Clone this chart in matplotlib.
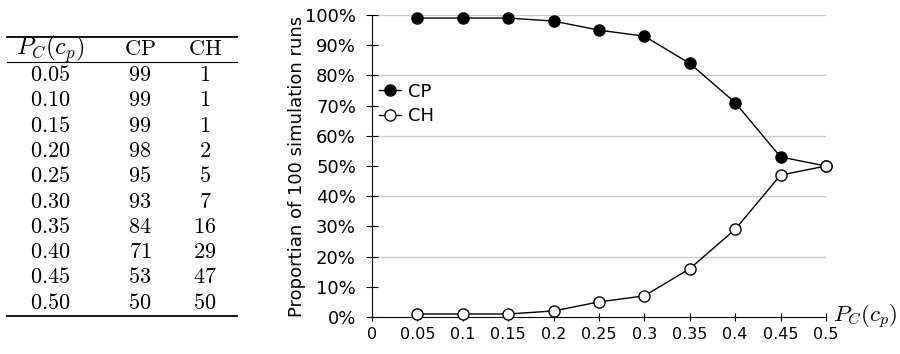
import matplotlib
matplotlib.use("Agg")
import matplotlib.pyplot as plt
from matplotlib.ticker import PercentFormatter

plt.rcParams['mathtext.fontset'] = 'cm'

# data
pc = [0.05, 0.10, 0.15, 0.20, 0.25, 0.30, 0.35, 0.40, 0.45, 0.50]
pc_txt = ["0.05", "0.10", "0.15", "0.20", "0.25", "0.30", "0.35", "0.40", "0.45", "0.50"]
cp = [99, 99, 99, 98, 95, 93, 84, 71, 53, 50]
ch = [1, 1, 1, 2, 5, 7, 16, 29, 47, 50]
xticks = [0, 0.05, 0.1, 0.15, 0.2, 0.25, 0.3, 0.35, 0.4, 0.45, 0.5]
xtick_labels = ["0", "0.05", "0.1", "0.15", "0.2", "0.25", "0.3", "0.35", "0.4", "0.45", "0.5"]

fig = plt.figure(figsize=(9, 3.54), dpi=100)

# table on the left, drawn in pixel coordinates
tab = fig.add_axes([0, 0, 1, 1])
tab.set_xlim(0, 900)
tab.set_ylim(354, 0)
tab.axis("off")
col_x = [50, 140, 205]
tsize = 16
tab.plot([7, 237], [37, 37], color="black", lw=1.3)
tab.plot([7, 237], [62, 62], color="black", lw=0.8)
tab.plot([7, 237], [316, 316], color="black", lw=1.3)
tab.text(col_x[0], 49, r"$P_C(c_p)$", ha="center", va="center", fontsize=17.5)
tab.text(col_x[1], 49, r"$\mathrm{CP}$", ha="center", va="center", fontsize=tsize)
tab.text(col_x[2], 49, r"$\mathrm{CH}$", ha="center", va="center", fontsize=tsize)
for i in range(len(pc)):
    y = 75 + i * 25.3
    tab.text(col_x[0], y, "$" + pc_txt[i] + "$", ha="center", va="center", fontsize=tsize)
    tab.text(col_x[1], y, "$%d$" % cp[i], ha="center", va="center", fontsize=tsize)
    tab.text(col_x[2], y, "$%d$" % ch[i], ha="center", va="center", fontsize=tsize)

# chart
ax = fig.add_axes([0.4133, 0.1045, 0.5044, 0.853])
ax.plot(pc, cp, color="black", lw=1, marker="o", markersize=8,
        markerfacecolor="black", markeredgecolor="black", label="CP", zorder=3, clip_on=False)
ax.plot(pc, ch, color="black", lw=1, marker="o", markersize=8,
        markerfacecolor="white", markeredgecolor="black", label="CH", zorder=3, clip_on=False)

ax.set_xlim(0, 0.5)
ax.set_ylim(0, 100)
ax.set_yticks(range(0, 101, 10))
ax.yaxis.set_major_formatter(PercentFormatter(xmax=100, decimals=0))
ax.set_xticks(xticks)
ax.set_xticklabels(xtick_labels, fontsize=11.5)
ax.tick_params(axis="y", labelsize=13, direction="inout", length=9, width=0.8, pad=7)
ax.tick_params(axis="x", direction="inout", length=6, width=0.8, pad=4)

for v in range(20, 101, 20):
    ax.axhline(v, color="#c8c8c8", lw=1, zorder=0)

ax.spines["top"].set_visible(False)
ax.spines["right"].set_visible(False)
ax.spines["left"].set_linewidth(0.8)
ax.spines["bottom"].set_linewidth(0.8)
ax.patch.set_visible(False)

ax.set_ylabel("Proportian of 100 simulation runs", fontsize=13, labelpad=-1)
ax.text(1.015, 0, r"$P_C(c_p)$", transform=ax.transAxes, ha="left", va="center", fontsize=16.5)

ax.legend(loc="upper left", bbox_to_anchor=(0.0, 0.8), frameon=False, fontsize=13,
          handlelength=1.2, handletextpad=0.4, labelspacing=0.35, borderaxespad=0)

fig.savefig("out.png", dpi=100)
